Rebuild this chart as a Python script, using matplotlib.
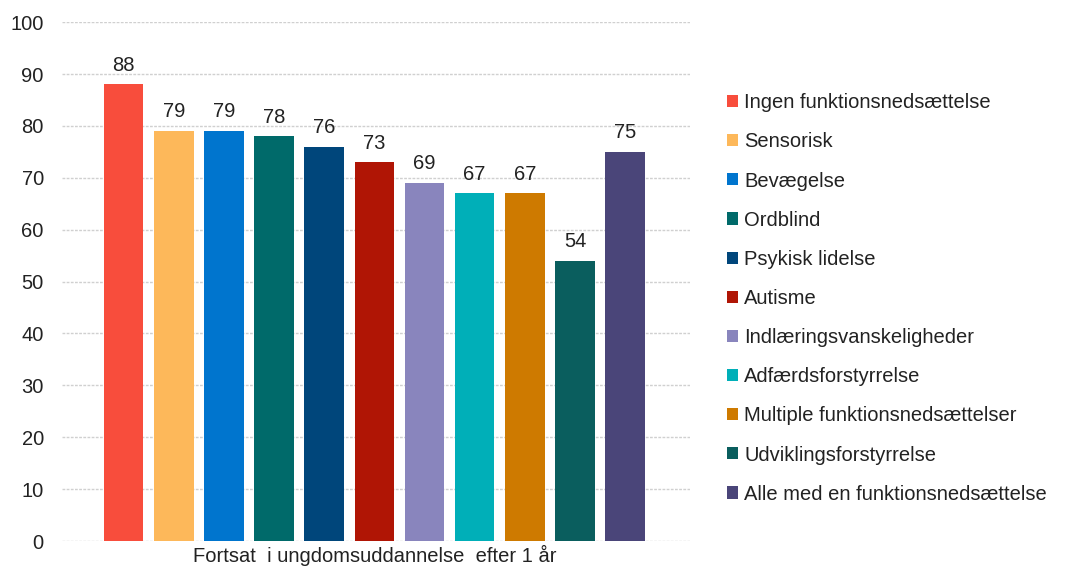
import matplotlib.pyplot as plt

categories = [
    "Ingen funktionsnedsættelse",
    "Sensorisk",
    "Bevægelse",
    "Ordblind",
    "Psykisk lidelse",
    "Autisme",
    "Indlæringsvanskeligheder",
    "Adfærdsforstyrrelse",
    "Multiple funktionsnedsættelser",
    "Udviklingsforstyrrelse",
    "Alle med en funktionsnedsættelse",
]
values = [88, 79, 79, 78, 76, 73, 69, 67, 67, 54, 75]
colors = ["#F84D3C", "#FDB85A", "#0075CE", "#006A6A", "#00467B", "#B01505",
          "#8985BD", "#00AFB8", "#CE7A00", "#0A5E5E", "#4A4579"]
group_label = "Fortsat  i ungdomsuddannelse  efter 1 år"

plt.rcParams['font.family'] = ['Liberation Sans', 'DejaVu Sans']
fs = 14.5
txt = "#222222"

fig = plt.figure(figsize=(10.67, 5.68), dpi=100)
ax = fig.add_axes([0.058, 0.0475, 0.589, 0.9135])

handles = []
for i, (cat, v, c) in enumerate(zip(categories, values, colors)):
    b = ax.bar(i, v, width=0.79, color=c, label=cat, zorder=3)
    handles.append(b)
    ax.annotate(str(v), (i, v), xytext=(0, 7), textcoords="offset points",
                ha="center", va="bottom", fontsize=fs, color=txt)

ax.set_ylim(0, 100)
ax.set_xlim(-1.23, 11.3)
ax.set_yticks(range(0, 101, 10))
ax.set_xticks([5])
ax.set_xticklabels([group_label], fontsize=fs, color=txt)
ax.tick_params(axis="y", length=0, labelsize=fs, colors=txt, pad=13)
ax.tick_params(axis="x", length=0, pad=3)
ax.grid(axis="y", color="#d0d0d0", linewidth=1, linestyle=(0, (2, 1)), zorder=0)
for s in ax.spines.values():
    s.set_visible(False)

fig.legend(handles=handles, loc="upper left", bbox_to_anchor=(0.674, 0.85),
           frameon=False, fontsize=fs, handlelength=0.55, handleheight=0.55,
           handletextpad=0.3, labelspacing=1.0, borderaxespad=0,
           labelcolor=txt)

fig.savefig("out.png", dpi=100)
